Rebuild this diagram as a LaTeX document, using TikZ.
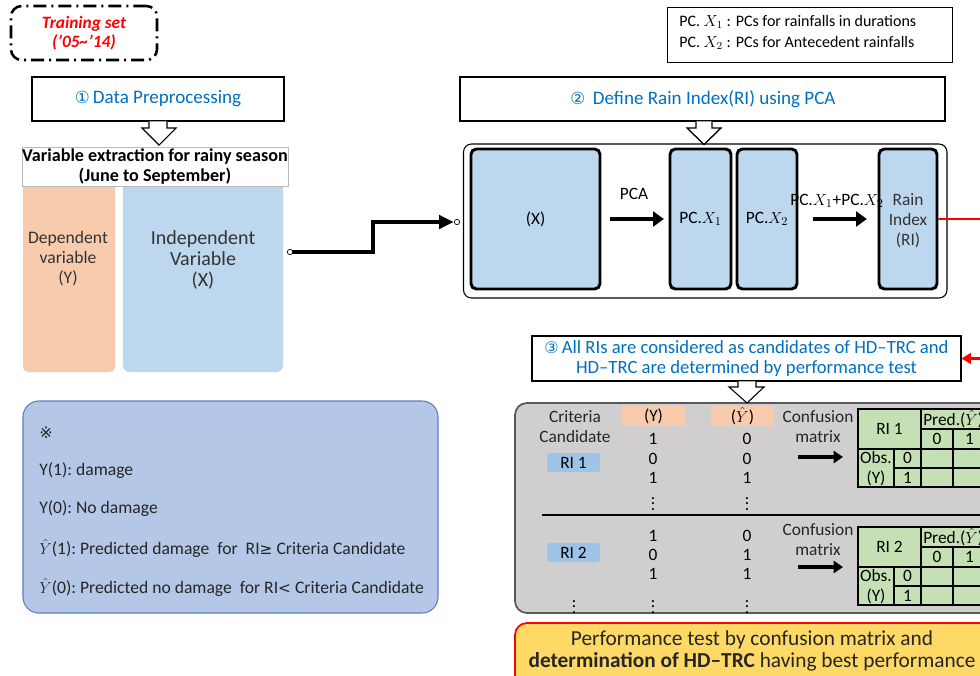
\documentclass[tikz,border=0pt]{standalone}
\usepackage{fontspec}
\setmainfont{Carlito}
\newfontfamily\dejavu{DejaVu Sans}
\usetikzlibrary{arrows.meta,fit,calc}
\definecolor{tblue}{HTML}{0070C0}
\definecolor{boxblue}{HTML}{BDD7EE}
\definecolor{boxorange}{HTML}{F8CBAD}
\definecolor{legblue}{HTML}{B4C7E7}
\definecolor{legborder}{HTML}{5B7FBF}
\definecolor{graybg}{HTML}{D0CECE}
\definecolor{graybd}{HTML}{595959}
\definecolor{cmgreen}{HTML}{C5E0B4}
\definecolor{ribtn}{HTML}{9DC3E6}
\definecolor{yellowbg}{HTML}{FFD966}
\newcommand\cmtab[3]{%
\begin{scope}[shift={(0,#1)}]
\node[fill=cmgreen, inner sep=0pt, fit={(858,409)(986,487)}] (#2) {};
\draw[line width=0.9pt] (858,409) rectangle (986,487)
  (921,429) -- (986,429) (858,449) -- (986,449) (894,468) -- (986,468)
  (921,409) -- (921,487) (953,429) -- (953,487) (894,449) -- (894,487);
\node[lbl] (#2a) at (889.5,429) {#3};
\node[lbl, anchor=west] (#2b) at (923,419) {Pred.($\hat{Y}$)};
\node[lbl] (#2c) at (937,439) {0};
\node[lbl] (#2d) at (969.5,439) {1};
\node[lbl] (#2e) at (876,458) {Obs.};
\node[lbl] (#2f) at (876,478) {(Y)};
\node[lbl] (#2g) at (907.5,458) {0};
\node[lbl] (#2h) at (907.5,478) {1};
\end{scope}}
\tikzset{
  lbl/.style={font=\fontsize{13}{15}\selectfont, align=center, inner sep=0pt},
  thickbox/.style={draw, line width=2.2pt, fill=boxblue, rounded corners=4pt, inner sep=0pt},
  plainbox/.style={draw, line width=0.8pt, fill=white, inner sep=0pt},
  hollow/.style={fill=white, draw, line width=0.8pt},
  fatarrow/.style={line width=3.3pt, -{Triangle[length=8pt,width=11pt]}},
  smallarrow/.style={line width=2.5pt, -{Triangle[length=7pt,width=9pt]}},
  leg/.style={font=\fontsize{13.2}{15}\selectfont, anchor=west, inner sep=0pt, text=black!85},
}
\begin{document}
\begin{tikzpicture}[x=0.75pt,y=-0.75pt]
\path[use as bounding box] (0,0) rectangle (980,675);
\clip (0,0) rectangle (980,675);
\fill[white] (0,0) rectangle (980,675);

% Training set
\node[draw, line width=1.9pt, dash pattern=on 9.75pt off 3.75pt on 1.5pt off 3.75pt,
      rounded corners=8pt, inner sep=0pt, fit={(11,6)(157,60)}] (train) {};
\node[text=red, font=\bfseries\itshape\fontsize{13}{14.25}\selectfont, align=center, inner sep=0pt]
      (traint) at (train.center) {Training set\\('05\textasciitilde'14)};

% Step 1
\node[plainbox, fit={(32,77)(284,121)}] (dp) {};
\node[text=tblue, font=\fontsize{14.3}{16}\selectfont, inner sep=0pt] (dpt) at (dp.center)
      {{\dejavu\fontsize{12.5}{14}\selectfont ①}\,Data Preprocessing};
\filldraw[hollow] (149,121.3) -- (149,128) -- (142,128) -- (159,145) -- (176,128) -- (167,128) -- (167,121.3);

% Variables
\node[fill=boxorange, rounded corners=4pt, inner sep=0pt, fit={(23,170)(115,372)}] (dep) {};
\node[fill=boxblue, rounded corners=5pt, inner sep=0pt, fit={(123,170)(283,372)}] (indep) {};
\node[draw=gray!55, line width=0.6pt, fill=white, inner sep=0pt, fit={(22,147)(288,186)}] (hdr) {};
\node[font=\bfseries\fontsize{13.6}{15}\selectfont, align=center, inner sep=0pt] (hdrt) at (hdr.center)
      {Variable extraction for rainy season\\(June to September)};
\node[font=\fontsize{13.2}{15}\selectfont, align=center, inner sep=0pt, text=black!80] (dept) at (68,259)
      {Dependent\\variable\\(Y)};
\node[font=\fontsize{15}{15.5}\selectfont, align=center, inner sep=0pt, text=black!80] (indept) at (203,260)
      {Independent\\Variable\\(X)};

% connector to PCA block
\coordinate (s1) at (290,252);
\coordinate (m1) at (373,237);
\coordinate (e1) at (457,222);
\draw[line width=3pt, -{Triangle[length=11pt,width=10pt]}, shorten >=2.5pt] (s1) -| (m1) |- (e1);
\draw[fill=white, line width=0.5pt] (s1) circle[radius=2pt];
\draw[fill=white, line width=0.5pt] (e1) circle[radius=2pt];

% legend top right
\node[draw, line width=0.7pt, inner sep=0pt, fit={(667,7)(952,62)}] (pcleg) {};
\node[leg, text=black, font=\fontsize{12}{14}\selectfont] (pcl1) at (679,22) {PC. $X_1$ : PCs for rainfalls in durations};
\node[leg, text=black, font=\fontsize{12}{14}\selectfont] (pcl2) at (679,43) {PC. $X_2$ : PCs for Antecedent rainfalls};

% Step 2
\node[plainbox, fit={(460,77)(945,121)}] (rip) {};
\node[text=tblue, font=\fontsize{14.3}{16}\selectfont, inner sep=0pt] (ript) at (703,99)
      {{\dejavu\fontsize{12.5}{14}\selectfont ②}\ \,Define Rain Index(RI) using PCA};
\filldraw[hollow] (696,121.3) -- (696,128) -- (687,128) -- (704,144.5) -- (721,128) -- (712,128) -- (712,121.3);

\node[draw, line width=0.8pt, rounded corners=6pt, inner sep=0pt, fit={(463.5,144)(947,298)}] (cont) {};
\draw[line width=0.8pt] (687,128) -- (704,144.5) -- (721,128);
\node[thickbox, fit={(471,149)(600,289)}] (xbox) {};
\node[lbl] (xboxt) at (xbox.center) {(X)};
\node[thickbox, fit={(670,149)(731,289)}] (pc1) {};
\node[lbl] (pc1t) at (pc1.center) {PC.$X_1$};
\node[thickbox, fit={(737,149)(797,289)}] (pc2) {};
\node[lbl] (pc2t) at (pc2.center) {PC.$X_2$};
\node[thickbox, fit={(879,149)(937,289)}] (ri) {};
\node[lbl, text=black!80] (rit) at (908,220.5) {Rain\\Index\\(RI)};
\node[lbl] (pcalbl) at (634,194) {PCA};
\node[lbl] (sumlbl) at (837,201) {PC.$X_1$+PC.$X_2$};
\draw[fatarrow, shorten <=6.5pt, shorten >=3.5pt] (xbox.east) -- (pc1.west);
\draw[fatarrow, shorten <=11pt, shorten >=8pt] (pc2.east) -- (ri.west);

% Step 3
\node[plainbox, fit={(532,336)(961,381)}] (s3) {};
\node[text=tblue, font=\fontsize{14}{15}\selectfont, align=center, inner sep=0pt] (s3t) at (s3.center)
      {{\dejavu\fontsize{12}{14}\selectfont ③}\,All RIs are considered as candidates of HD--TRC and\\HD--TRC are determined by performance test};
\draw[red, line width=2.2pt, -{Triangle[length=7pt,width=8pt]}] (ri.east) -- (1010,219) |- (s3.east);

% gray container
\node[fill=graybg, draw=graybd, line width=1.3pt, rounded corners=9pt, inner sep=0pt, fit={(515,403)(1010,613)}] (gray) {};
\filldraw[hollow] (738,381.3) -- (738,387) -- (729,387) -- (747,403) -- (764,387) -- (756,387) -- (756,381.3);
\node[fill=boxorange, inner sep=0pt, fit={(622,406)(685,426)}] (yh) {};
\node[lbl] (yht) at (yh.center) {(Y)};
\node[fill=boxorange, inner sep=0pt, fit={(711,406)(774,426)}] (yhh) {};
\node[lbl] (yhht) at (yhh.center) {($\hat{Y}$)};
\node[lbl, text=black!85] (crit) at (575,426.5) {Criteria\\Candidate};
\node[lbl, text=black!85] (conf1) at (818,426.5) {Confusion\\matrix};
\node[lbl, text=black!85] (conf2) at (818,540) {Confusion\\matrix};
\node[fill=ribtn, rounded corners=2pt, inner sep=0pt, fit={(547,453)(600,472)}] (ri1) {};
\node[lbl] (ri1t) at (ri1.center) {RI 1};
\node[fill=ribtn, rounded corners=2pt, inner sep=0pt, fit={(547,543)(600,562)}] (ri2) {};
\node[lbl] (ri2t) at (ri2.center) {RI 2};

\node[lbl] (v1) at (653,439) {1};
\node[lbl] (v2) at (653,459) {0};
\node[lbl] (v3) at (653,478) {1};
\node[lbl] (v4) at (653,500) {$\vdots$};
\node[lbl] (w1) at (747,439) {0};
\node[lbl] (w2) at (747,459) {0};
\node[lbl] (w3) at (747,478) {1};
\node[lbl] (w4) at (747,500) {$\vdots$};
\node[lbl] (v5) at (653,536) {1};
\node[lbl] (v6) at (653,555) {0};
\node[lbl] (v7) at (653,574) {1};
\node[lbl] (v8) at (653,603) {$\vdots$};
\node[lbl] (w5) at (747,536) {0};
\node[lbl] (w6) at (747,555) {1};
\node[lbl] (w7) at (747,574) {1};
\node[lbl] (w8) at (747,603) {$\vdots$};
\node[lbl] (c8) at (574,603) {$\vdots$};

\draw[line width=0.8pt] (542,515) -- (1010,515);
\coordinate (a1s) at (798,457); \coordinate (a1e) at (843,457);
\coordinate (a2s) at (798,567); \coordinate (a2e) at (843,567);
\draw[smallarrow] (a1s) -- (a1e);
\draw[smallarrow] (a2s) -- (a2e);
\cmtab{0}{tA}{RI 1}
\cmtab{118}{tB}{RI 2}

% final box
\node[fill=yellowbg, draw=red, line width=1.3pt, rounded corners=9pt, inner sep=0pt, fit={(515,623)(1010,710)}] (fin) {};
\node[font=\fontsize{16}{16.5}\selectfont, align=center, inner sep=0pt, text=black!85] (fint) at (752,651)
      {Performance test by confusion matrix and\\\textbf{determination of HD--TRC} having best performance};

% legend bottom left
\node[fill=legblue, draw=legborder, line width=0.8pt, rounded corners=12pt, inner sep=0pt, fit={(23,401)(438,613)}] (note) {};
\node[leg] (n0) at (39,433) {{\dejavu\fontsize{12}{14}\selectfont ※}};
\node[leg] (n1) at (39,471) {Y(1):\ damage};
\node[leg] (n2) at (39,509) {Y(0):\ No damage};
\node[leg] (n3) at (39,548) {$\hat{Y}$(1):\ Predicted damage\ \ for\ \ RI{\dejavu\fontsize{11.5}{12}\selectfont ≥} Criteria Candidate};
\node[leg] (n4) at (39,587) {$\hat{Y}$(0):\ Predicted no damage\ \ for RI{\dejavu\fontsize{11.5}{12}\selectfont <} Criteria Candidate};
\end{tikzpicture}
\end{document}
